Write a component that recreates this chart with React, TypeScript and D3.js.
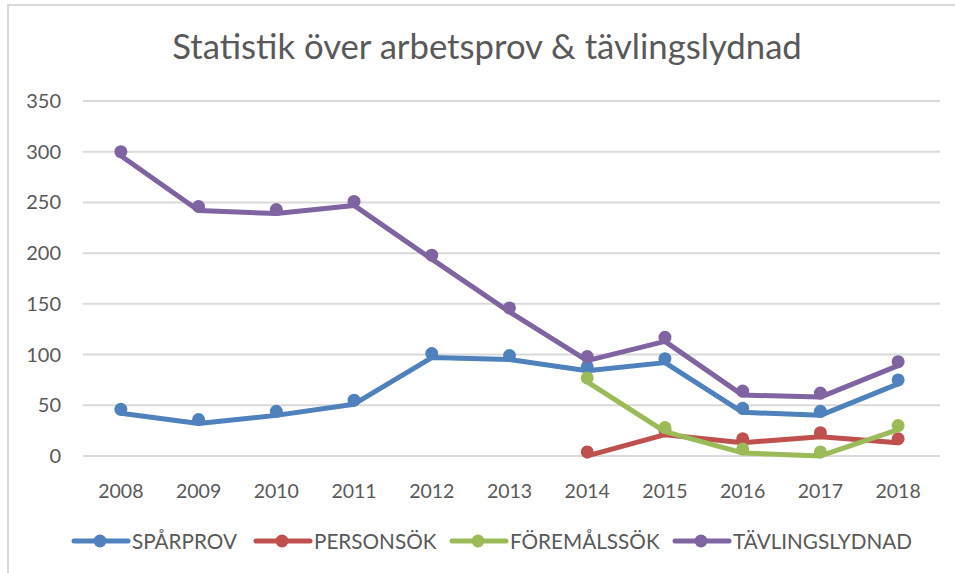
import React, { useEffect, useRef } from 'react';
import * as d3 from 'd3';

const years = ['2008', '2009', '2010', '2011', '2012', '2013', '2014', '2015', '2016', '2017', '2018'];
const sparprov = [46, 36, 44, 55, 101, 99, 88, 96, 47, 44, 75];
const personsok = [null, null, null, null, null, null, 4, 25, 17, 23, 17];
const foremalssok = [null, null, null, null, null, null, 77, 28, 7, 4, 30];
const tavlingslydnad = [300, 246, 243, 251, 198, 146, 98, 117, 64, 62, 93];
const yTicks = [0, 50, 100, 150, 200, 250, 300, 350];

const seriesNames = ['SPÅRPROV', 'PERSONSÖK', 'FÖREMÅLSSÖK', 'TÄVLINGSLYDNAD'];
const seriesColors = ['#4f81bd', '#c0504d', '#9bbb59', '#8064a2'];
const seriesValues = [sparprov, personsok, foremalssok, tavlingslydnad];

const App = () => {
  const svgRef = useRef<SVGSVGElement>(null);

  useEffect(() => {
    const svg = d3.select(svgRef.current);
    svg.selectAll('*').remove();

    const width = 955;
    const height = 573;
    const font = 'Lato, "Open Sans", sans-serif';
    const textColor = '#595959';

    svg.attr('width', width).attr('height', height);

    // chart frame
    svg.append('rect')
      .attr('x', 8).attr('y', 5)
      .attr('width', 960).attr('height', 580)
      .attr('fill', '#fff')
      .attr('stroke', '#d9d9d9')
      .attr('stroke-width', 2);

    svg.append('text')
      .attr('x', 487)
      .attr('y', 59)
      .attr('text-anchor', 'middle')
      .attr('font-family', font)
      .attr('font-size', 34.7)
      .attr('fill', textColor)
      .text('Statistik över arbetsprov & tävlingslydnad');

    const x = d3.scaleBand().domain(years).range([82, 937]);
    const y = d3.scaleLinear().domain([0, 350]).range([456, 101]);
    const cx = (d: string) => (x(d) as number) + x.bandwidth() / 2;

    // gridlines
    svg.append('g')
      .selectAll('line')
      .data(yTicks)
      .enter()
      .append('line')
      .attr('x1', 83).attr('x2', 940)
      .attr('y1', d => y(d)).attr('y2', d => y(d))
      .attr('stroke', '#d9d9d9')
      .attr('stroke-width', 2);

    svg.append('g')
      .selectAll('text')
      .data(yTicks)
      .enter()
      .append('text')
      .attr('x', 61)
      .attr('y', d => y(d) + 7)
      .attr('text-anchor', 'end')
      .attr('font-family', font)
      .attr('font-size', 20)
      .attr('fill', textColor)
      .text(d => d);

    svg.append('g')
      .selectAll('text')
      .data(years)
      .enter()
      .append('text')
      .attr('x', d => cx(d))
      .attr('y', 498)
      .attr('text-anchor', 'middle')
      .attr('font-family', font)
      .attr('font-size', 19.5)
      .attr('fill', textColor)
      .text(d => d);

    const line = d3.line<any>()
      .defined(d => d.v != null)
      .x(d => cx(d.year))
      .y(d => y(d.v));

    seriesValues.forEach((vals, i) => {
      const pts = vals.map((v, k) => ({ year: years[k], v }));
      const g = svg.append('g');
      // Excel rendering: line sits a little below its markers
      g.append('path')
        .datum(pts)
        .attr('d', line)
        .attr('transform', 'translate(0,4)')
        .attr('fill', 'none')
        .attr('stroke', seriesColors[i])
        .attr('stroke-width', 5)
        .attr('stroke-linejoin', 'round')
        .attr('stroke-linecap', 'round');
      g.selectAll('circle')
        .data(pts.filter(p => p.v != null))
        .enter()
        .append('circle')
        .attr('cx', d => cx(d.year))
        .attr('cy', d => y(d.v as number))
        .attr('r', 6.5)
        .attr('fill', seriesColors[i]);
    });

    // legend
    const legendX = [74, 256, 452, 675];
    seriesNames.forEach((name, i) => {
      const lg = svg.append('g').attr('transform', `translate(${legendX[i]},541)`);
      lg.append('line')
        .attr('x1', 0).attr('x2', 54)
        .attr('stroke', seriesColors[i])
        .attr('stroke-width', 5)
        .attr('stroke-linecap', 'round');
      lg.append('circle').attr('cx', 26).attr('r', 6.5).attr('fill', seriesColors[i]);
      lg.append('text')
        .attr('x', 58)
        .attr('y', 8)
        .attr('font-family', font)
        .attr('font-size', 20.7)
        .attr('fill', textColor)
        .text(name);
    });
  }, []);

  return (
    <svg ref={svgRef} style={{ position: 'absolute', left: 0, top: 0 }}></svg>
  );
};

export default App;
